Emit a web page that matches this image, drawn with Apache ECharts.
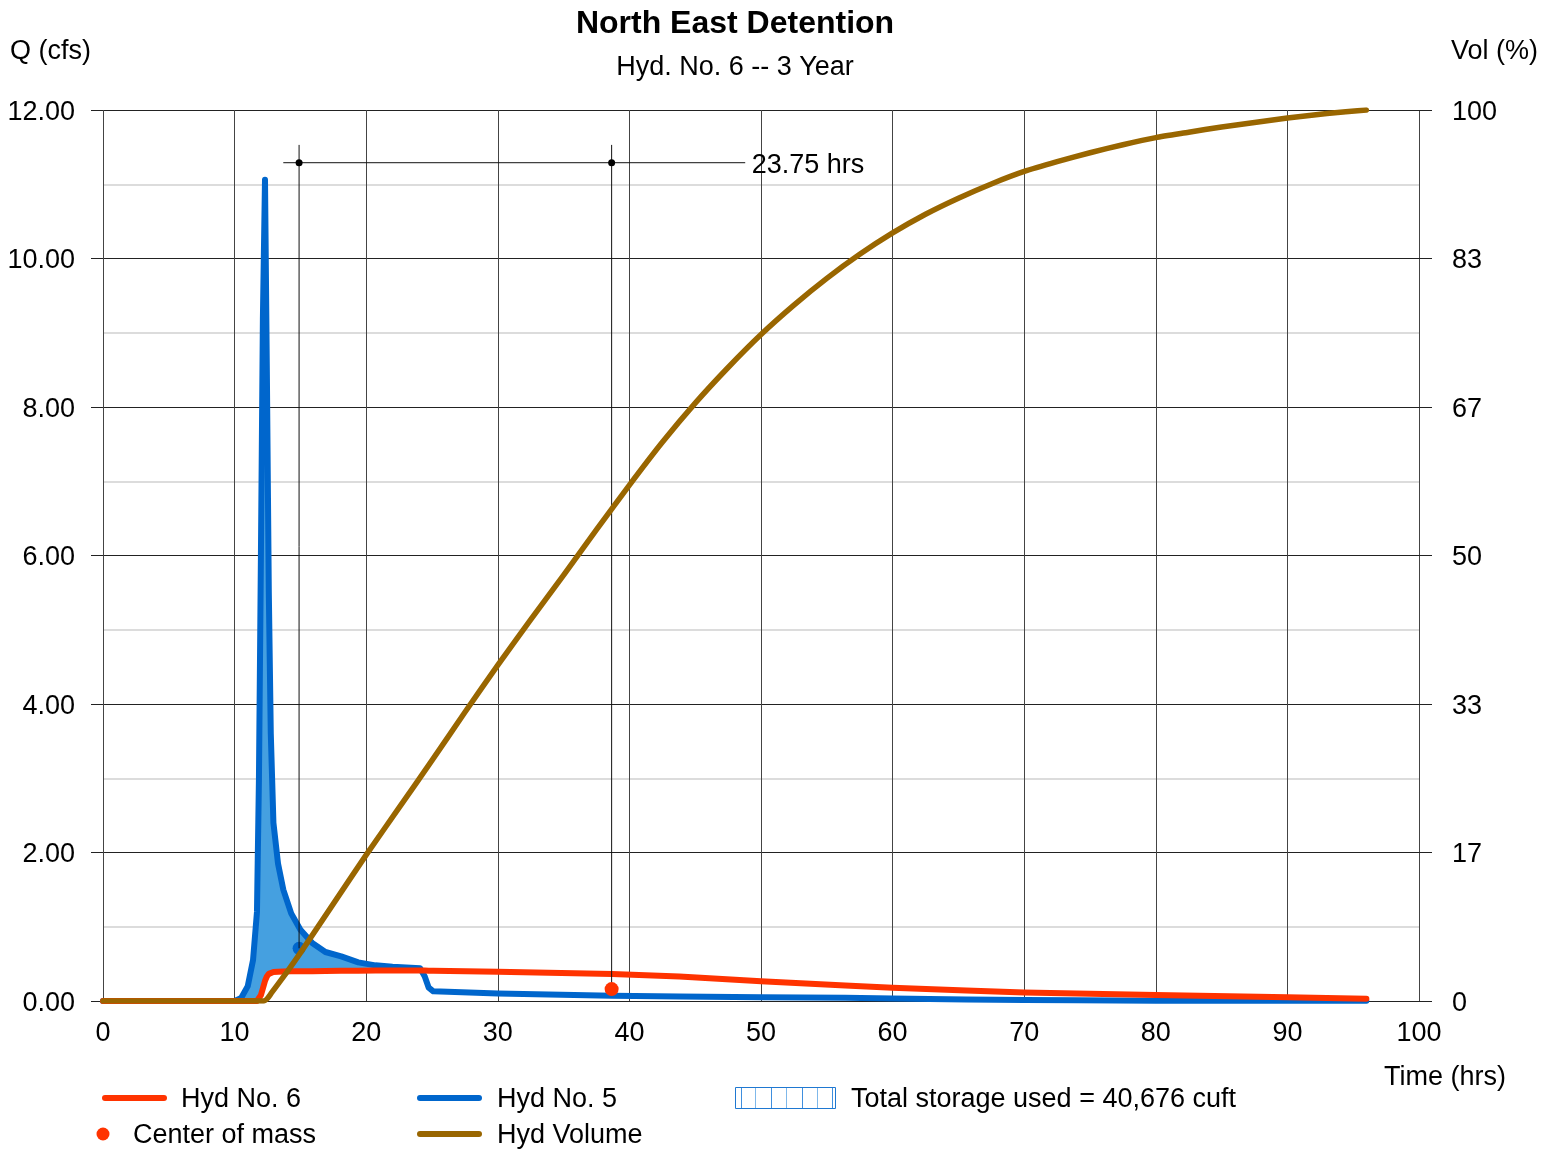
<!DOCTYPE html>
<html><head><meta charset="utf-8">
<script src="https://cdn.jsdelivr.net/npm/echarts@6/dist/echarts.min.js"></script>
<style>html,body{margin:0;padding:0;background:#fff}#c{width:1543px;height:1149px}</style>
</head><body><div id="c"></div>
<script>
// ---- data ----
const hours = [0,10,10.5,11,11.4,11.7,11.85,12,12.15,12.31,
  12.45,12.6,12.75,12.95,13.3,13.7,14.3,15,15.9,16.9,
  18.1,19.4,20.7,22,24.1,24.45,24.75,25.1,30,38.7,
  43.8,50,56.4,60,65.6,70,74,80,90,96];
// Hyd No. 5 (inflow, cfs)
const inflow = [0,0,0.04,0.2,0.55,1.2,3.0,6.0,9.2,11.06,
  8.5,5.5,3.6,2.4,1.85,1.5,1.18,0.96,0.78,0.66,
  0.6,0.52,0.48,0.46,0.44,0.33,0.18,0.13,0.1,0.07,
  0.06,0.05,0.045,0.035,0.02,0.015,0.01,0.005,0.005,0.005];
// Hyd No. 6 (outflow, cfs)
const outflow = [0,0,0,0,0,0,0.01,0.08,0.17,0.27,
  0.33,0.365,0.38,0.39,0.395,0.398,0.4,0.4,0.402,0.404,
  0.406,0.408,0.41,0.41,0.41,0.41,0.408,0.407,0.395,0.365,
  0.33,0.265,0.21,0.178,0.14,0.115,0.1,0.08,0.05,0.03];
// Hyd Volume (% of total)
const volHours = [0,12.2,12.5,12.8,13.2,14,15,17.5,20,22.5,25,27.5,30,32.5,35,37.5,40,42.5,45,47.5,
  50,52.5,55,57.5,60,62.5,65,67.5,70,72.5,75,77.5,80,82.5,85,87.5,90,93,96];
const volPct   = [0,0,0.3,0.9,1.7,3.3,5.4,10.9,16.4,21.7,27.0,32.4,37.7,42.8,47.8,52.9,57.9,62.7,67.1,71.1,
  74.8,78.1,81.1,83.8,86.2,88.3,90.1,91.7,93.1,94.2,95.2,96.1,96.9,97.5,98.1,98.6,99.1,99.6,100];
// centers of mass [hours, cfs]
const inflowCentroid = [14.9, 0.71];
const outflowCentroid = [38.65, 0.16];
const lagText = '23.75 hrs';
const lagLineY = 11.29;
const lagLineX = [13.7, 48.8];
const lagTickTop = 11.53;
const rightTickLabels = ['0','17','33','50','67','83','100'];
const titleText = 'North East Detention';
const subtitleText = 'Hyd. No. 6 -- 3 Year';
const legendTexts = ['Hyd No. 6','Hyd No. 5','Total storage used = 40,676 cuft','Center of mass','Hyd Volume'];

const VOL_MAX_UNITS = 12; // right axis spans same height; 100% == 12 units
const FONT = 'Liberation Sans, Arial, sans-serif';
const FS = 27;
const RED = '#ff3300', BLUE = '#0066cc', BROWN = '#996600', FILL = '#45a0e0';

const pair = (xs, ys) => xs.map((x, i) => [x, ys[i]]);

const chart = echarts.init(document.getElementById('c'), null, {renderer: 'canvas'});

const txt = (x, y, text, opts = {}) => ({
  type: 'text', z: 100,
  style: {x, y, text, fill: '#000', font: (opts.bold ? 'bold ' : '') + (opts.size || FS) + 'px ' + FONT,
    textAlign: opts.align || 'left', textVerticalAlign: 'middle'}
});

const storageIcon = [];
storageIcon.push({type: 'rect', z: 100, shape: {x: 735.5, y: 1087.5, width: 100, height: 21}, style: {fill: '#fff', stroke: '#1f78d1', lineWidth: 1}});
[740.7, 755, 770.7, 786, 801.7, 816.7, 831.7].forEach((x, i) => {
  storageIcon.push({type: 'line', z: 100, shape: {x1: Math.round(x) + 0.5, y1: 1088, x2: Math.round(x) + 0.5, y2: 1108},
    style: {stroke: i % 2 ? '#7fb8ea' : '#3f8fde', lineWidth: 1}});
});

const yLabel = {color: '#000', fontSize: FS, fontFamily: FONT, rich: {v: {fontSize: FS, fontFamily: FONT, color: '#000', padding: [5, 0, 0, 0]}}};

const option = {
  animation: false,
  backgroundColor: '#fff',
  textStyle: {fontFamily: FONT},
  grid: {left: 103, right: 124, top: 110, bottom: 148, containLabel: false},
  xAxis: {
    type: 'value', min: 0, max: 100, interval: 10,
    axisLine: {show: false}, axisTick: {show: false},
    axisLabel: {color: '#000', fontSize: FS, fontFamily: FONT, margin: 19},
    splitLine: {show: true, lineStyle: {color: '#444', width: 1}}
  },
  yAxis: [{
    type: 'value', min: 0, max: 12, interval: 2, position: 'left',
    axisLine: {show: false},
    axisTick: {show: true, length: 12, lineStyle: {color: '#222', width: 1}},
    axisLabel: Object.assign({margin: 28, formatter: v => '{v|' + v.toFixed(2) + '}'}, yLabel),
    splitLine: {show: true, lineStyle: {color: '#222', width: 1}},
    minorTick: {show: false, splitNumber: 2},
    minorSplitLine: {show: true, lineStyle: {color: '#dcdcdc', width: 2}}
  }, {
    type: 'value', min: 0, max: 12, interval: 2, position: 'right',
    axisLine: {show: false},
    axisTick: {show: true, length: 13, lineStyle: {color: '#222', width: 1}},
    axisLabel: Object.assign({margin: 33, formatter: (v, i) => '{v|' + rightTickLabels[i] + '}'}, yLabel),
    splitLine: {show: false}
  }],
  series: [
    { // storage fill between inflow and outflow
      type: 'custom', coordinateSystem: 'cartesian2d', data: [[0, 0]], silent: true, z: 2,
      renderItem: (params, api) => {
        const pts = [];
        for (let i = 0; i < hours.length; i++) pts.push(api.coord([hours[i], inflow[i]]));
        for (let i = hours.length - 1; i >= 0; i--) pts.push(api.coord([hours[i], Math.min(inflow[i], outflow[i])]));
        return {type: 'polygon', shape: {points: pts}, style: {fill: FILL}};
      }
    },
    { name: 'Hyd No. 5', type: 'line', z: 3, data: pair(hours, inflow), showSymbol: false, symbol: 'none',
      lineStyle: {color: BLUE, width: 6, cap: 'round', join: 'round'} },
    { name: 'inflow center', type: 'scatter', z: 3, data: [inflowCentroid], symbolSize: 13, itemStyle: {color: BLUE, opacity: 1} },
    { name: 'Hyd No. 6', type: 'line', z: 4, data: pair(hours, outflow), showSymbol: false, symbol: 'none',
      lineStyle: {color: RED, width: 6, cap: 'round', join: 'round'} },
    { type: 'line', z: 5, data: [[inflowCentroid[0], lagTickTop], inflowCentroid], symbol: 'none', silent: true,
      lineStyle: {color: '#111', width: 1} },
    { type: 'line', z: 5, data: [[outflowCentroid[0], lagTickTop], outflowCentroid], symbol: 'none', silent: true,
      lineStyle: {color: '#111', width: 1} },
    { type: 'line', z: 5, data: [[lagLineX[0], lagLineY], [lagLineX[1], lagLineY]], symbol: 'none', silent: true,
      lineStyle: {color: '#111', width: 1} },
    { type: 'scatter', z: 5, data: [[inflowCentroid[0], lagLineY], [outflowCentroid[0], lagLineY]], symbolSize: 7,
      itemStyle: {color: '#000', opacity: 1}, silent: true },
    { name: 'Hyd Volume', type: 'line', z: 6, yAxisIndex: 1,
      data: volHours.map((h, i) => [h, volPct[i] / 100 * VOL_MAX_UNITS]),
      showSymbol: false, symbol: 'none', smooth: 0.2,
      lineStyle: {color: BROWN, width: 5.5, cap: 'round', join: 'round'} },
    { name: 'Center of mass', type: 'scatter', z: 7, data: [outflowCentroid], symbolSize: 14, itemStyle: {color: RED, opacity: 1} },
    { type: 'scatter', z: 8, data: [[lagLineX[1], lagLineY]], symbolSize: 1, silent: true,
      itemStyle: {color: 'rgba(0,0,0,0)', opacity: 1},
      label: {show: true, position: 'right', distance: 6, formatter: '{v|' + lagText + '}', color: '#000', opacity: 1,
        fontSize: FS, fontFamily: FONT, rich: {v: {fontSize: FS, fontFamily: FONT, color: '#000', padding: [5, 0, 0, 0]}}} }
  ],
  graphic: [
    txt(735, 24, titleText, {bold: true, size: 32, align: 'center'}),
    txt(735, 68, subtitleText, {align: 'center'}),
    txt(10, 52, 'Q (cfs)'),
    txt(1451, 52, 'Vol (%)'),
    txt(1384, 1078, 'Time (hrs)'),
    {type: 'line', z: 100, shape: {x1: 105, y1: 1098, x2: 164, y2: 1098}, style: {stroke: RED, lineWidth: 6, lineCap: 'round'}},
    txt(181, 1100, legendTexts[0]),
    {type: 'line', z: 100, shape: {x1: 420, y1: 1098, x2: 479, y2: 1098}, style: {stroke: BLUE, lineWidth: 6, lineCap: 'round'}},
    txt(497, 1100, legendTexts[1]),
    ...storageIcon,
    txt(851, 1100, legendTexts[2]),
    {type: 'circle', z: 100, shape: {cx: 103, cy: 1134, r: 6.5}, style: {fill: RED}},
    txt(133, 1136, legendTexts[3]),
    {type: 'line', z: 100, shape: {x1: 420, y1: 1134, x2: 479, y2: 1134}, style: {stroke: BROWN, lineWidth: 6, lineCap: 'round'}},
    txt(497, 1136, legendTexts[4])
  ]
};
chart.setOption(option);
</script>
</body></html>
